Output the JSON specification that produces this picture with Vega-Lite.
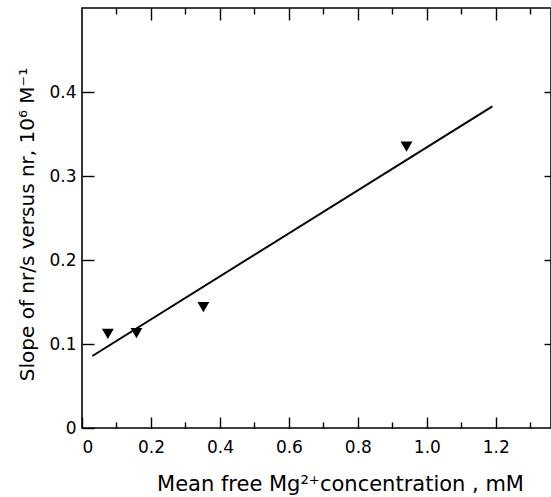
{
  "$schema": "https://vega.github.io/schema/vega-lite/v6.json",
  "width": 469,
  "height": 420,
  "autosize": {"type": "none"},
  "padding": {"left": 82, "top": 8, "right": 0, "bottom": 69},
  "background": "white",
  "config": {
    "view": {"stroke": "black", "strokeWidth": 1.6},
    "axis": {
      "labelFont": "DejaVu Sans",
      "titleFont": "DejaVu Sans",
      "labelColor": "black",
      "titleColor": "black",
      "tickColor": "black",
      "tickWidth": 1.4,
      "grid": false,
      "domain": false,
      "labelFontSize": 17,
      "titleFontSize": 20,
      "titleFontWeight": "normal"
    }
  },
  "datasets": {
    "fit": [{"conc": 0.03, "slope": 0.0857}, {"conc": 1.19, "slope": 0.383}],
    "obs": [
      {"conc": 0.075, "slope": 0.112},
      {"conc": 0.158, "slope": 0.113},
      {"conc": 0.352, "slope": 0.144},
      {"conc": 0.941, "slope": 0.335}
    ]
  },
  "resolve": {"axis": {"x": "independent", "y": "independent"}},
  "layer": [
    {
      "data": {"name": "fit"},
      "mark": {"type": "line", "color": "black", "strokeWidth": 2},
      "encoding": {
        "x": {
          "field": "conc", "type": "quantitative",
          "scale": {"domain": [0, 1.36], "nice": false},
          "axis": {
            "orient": "bottom",
            "offset": -11,
            "values": [0, 0.2, 0.4, 0.6, 0.8, 1.0, 1.2],
            "labelExpr": "datum.value == 0 ? '0' : format(datum.value, '.1f')",
            "tickSize": 11,
            "labelPadding": 11,
            "title": "Mean free Mg²⁺concentration , mM",
            "titleFontSize": 21,
            "titleX": 258,
            "titleY": 73,
            "titleBaseline": "alphabetic"
          }
        },
        "y": {
          "field": "slope", "type": "quantitative",
          "scale": {"domain": [0, 0.5], "nice": false},
          "axis": {
            "orient": "left",
            "offset": -12,
            "values": [0, 0.1, 0.2, 0.3, 0.4],
            "labelExpr": "datum.value == 0 ? '0' : format(datum.value, '.1f')",
            "tickSize": 12,
            "labelPadding": 6,
            "title": "Slope of nr/s  versus nr,  10⁶ M⁻¹",
            "titleFontSize": 20,
            "titleX": -61,
            "titleY": 216,
            "titleBaseline": "alphabetic"
          }
        }
      }
    },
    {
      "data": {"name": "obs"},
      "mark": {"type": "point", "shape": "triangle-down", "filled": true, "color": "black", "opacity": 1, "size": 140},
      "encoding": {
        "x": {
          "field": "conc", "type": "quantitative",
          "axis": {"orient": "top", "offset": -12, "values": [0.2, 0.4, 0.6, 0.8, 1.0, 1.2], "labels": false, "tickSize": 12, "title": null}
        },
        "y": {
          "field": "slope", "type": "quantitative",
          "axis": {"orient": "right", "offset": -7, "values": [0.1, 0.2, 0.3, 0.4], "labels": false, "tickSize": 7, "title": null}
        }
      }
    },
    {
      "data": {"name": "fit"},
      "mark": {"type": "line", "opacity": 0},
      "encoding": {
        "x": {
          "field": "conc", "type": "quantitative",
          "axis": {"orient": "bottom", "offset": -6, "values": [0.1, 0.3, 0.5, 0.7, 0.9, 1.1, 1.3], "labels": false, "tickSize": 6, "title": null}
        },
        "y": {"field": "slope", "type": "quantitative", "axis": null}
      }
    },
    {
      "data": {"name": "fit"},
      "mark": {"type": "line", "opacity": 0},
      "encoding": {
        "x": {
          "field": "conc", "type": "quantitative",
          "axis": {"orient": "top", "offset": -6, "values": [0.1, 0.3, 0.5, 0.7, 0.9, 1.1, 1.3], "labels": false, "tickSize": 6, "title": null}
        },
        "y": {"field": "slope", "type": "quantitative", "axis": null}
      }
    }
  ]
}
